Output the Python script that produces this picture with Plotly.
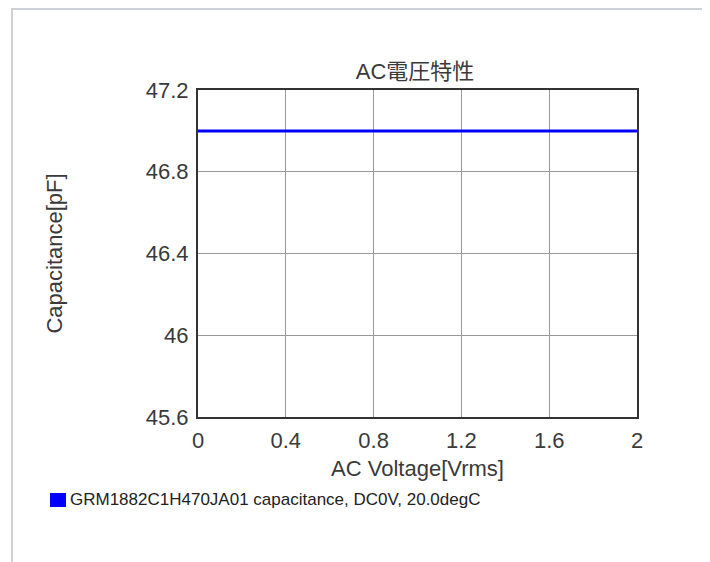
import plotly.graph_objects as go

voltage = [0.0, 0.4, 0.8, 1.2, 1.6, 2.0]
capacitance = [47.0, 47.0, 47.0, 47.0, 47.0, 47.0]
x_ticks = [0, 0.4, 0.8, 1.2, 1.6, 2]
x_tick_labels = ["0", "0.4", "0.8", "1.2", "1.6", "2"]
y_ticks = [45.6, 46.0, 46.4, 46.8, 47.2]
y_tick_labels = ["45.6", "46", "46.4", "46.8", "47.2"]
series_name = "GRM1882C1H470JA01 capacitance, DC0V, 20.0degC"
title_text = "AC電圧特性"

FONT = "Liberation Sans, Arial, Noto Sans CJK JP, sans-serif"
TXT = "#3a3a3a"

OFF = 8  # page body margin
L, T = 190, 82
pw, ph = 439, 327
W, H = 710, 562
R = W - L - pw
B = H - T - ph


def fx(page_x):
    return (page_x - OFF - L) / pw


def fy(page_y):
    return (T + ph + OFF - page_y) / ph


fig = go.Figure()
fig.add_trace(go.Scatter(x=voltage, y=capacitance, mode="lines", name=series_name,
                         line=dict(color="#0000ff", width=3),
                         showlegend=False, hoverinfo="skip"))

# outer frame
fig.add_shape(type="rect", xref="paper", yref="paper",
              x0=fx(12), x1=fx(704), y0=fy(620), y1=fy(9),
              line=dict(color="#cdd1d5", width=2), fillcolor="rgba(0,0,0,0)", layer="below")

# legend (swatch + label)
fig.add_shape(type="rect", xref="paper", yref="paper",
              x0=fx(50), x1=fx(66), y0=fy(507), y1=fy(493),
              line=dict(width=0), fillcolor="#0000ff")
fig.add_annotation(text=series_name, xref="paper", yref="paper",
                   x=fx(68), y=fy(500), xanchor="left", yanchor="middle",
                   showarrow=False, font=dict(size=17, color="#222222", family=FONT))

fig.update_layout(
    width=W, height=H,
    margin=dict(l=L, r=R, t=T, b=B, pad=0),
    paper_bgcolor="white", plot_bgcolor="white",
    font=dict(family=FONT, color=TXT),
    title=dict(text=title_text, xref="paper", x=fx(415), xanchor="center",
               y=1 - (71 - OFF) / H, yanchor="middle",
               font=dict(size=22, color=TXT, family=FONT)),
    showlegend=False,
)
fig.update_xaxes(range=[0, 2], tickvals=x_ticks, ticktext=x_tick_labels,
                 showgrid=True, gridcolor="#999999", gridwidth=1,
                 showline=True, linecolor="#333333", linewidth=2, mirror=True,
                 ticks="", tickfont=dict(size=22, color=TXT), ticklabelstandoff=3,
                 zeroline=False,
                 title=dict(text="AC Voltage[Vrms]", font=dict(size=22, color=TXT), standoff=8))
fig.update_yaxes(range=[45.6, 47.2], tickvals=y_ticks, ticktext=y_tick_labels,
                 showgrid=True, gridcolor="#999999", gridwidth=1,
                 showline=True, linecolor="#333333", linewidth=2, mirror=True,
                 ticks="", tickfont=dict(size=22, color=TXT), ticklabelstandoff=3,
                 zeroline=False,
                 title=dict(text="Capacitance[pF]", font=dict(size=22, color=TXT), standoff=77))

fig.write_html("out.html")
